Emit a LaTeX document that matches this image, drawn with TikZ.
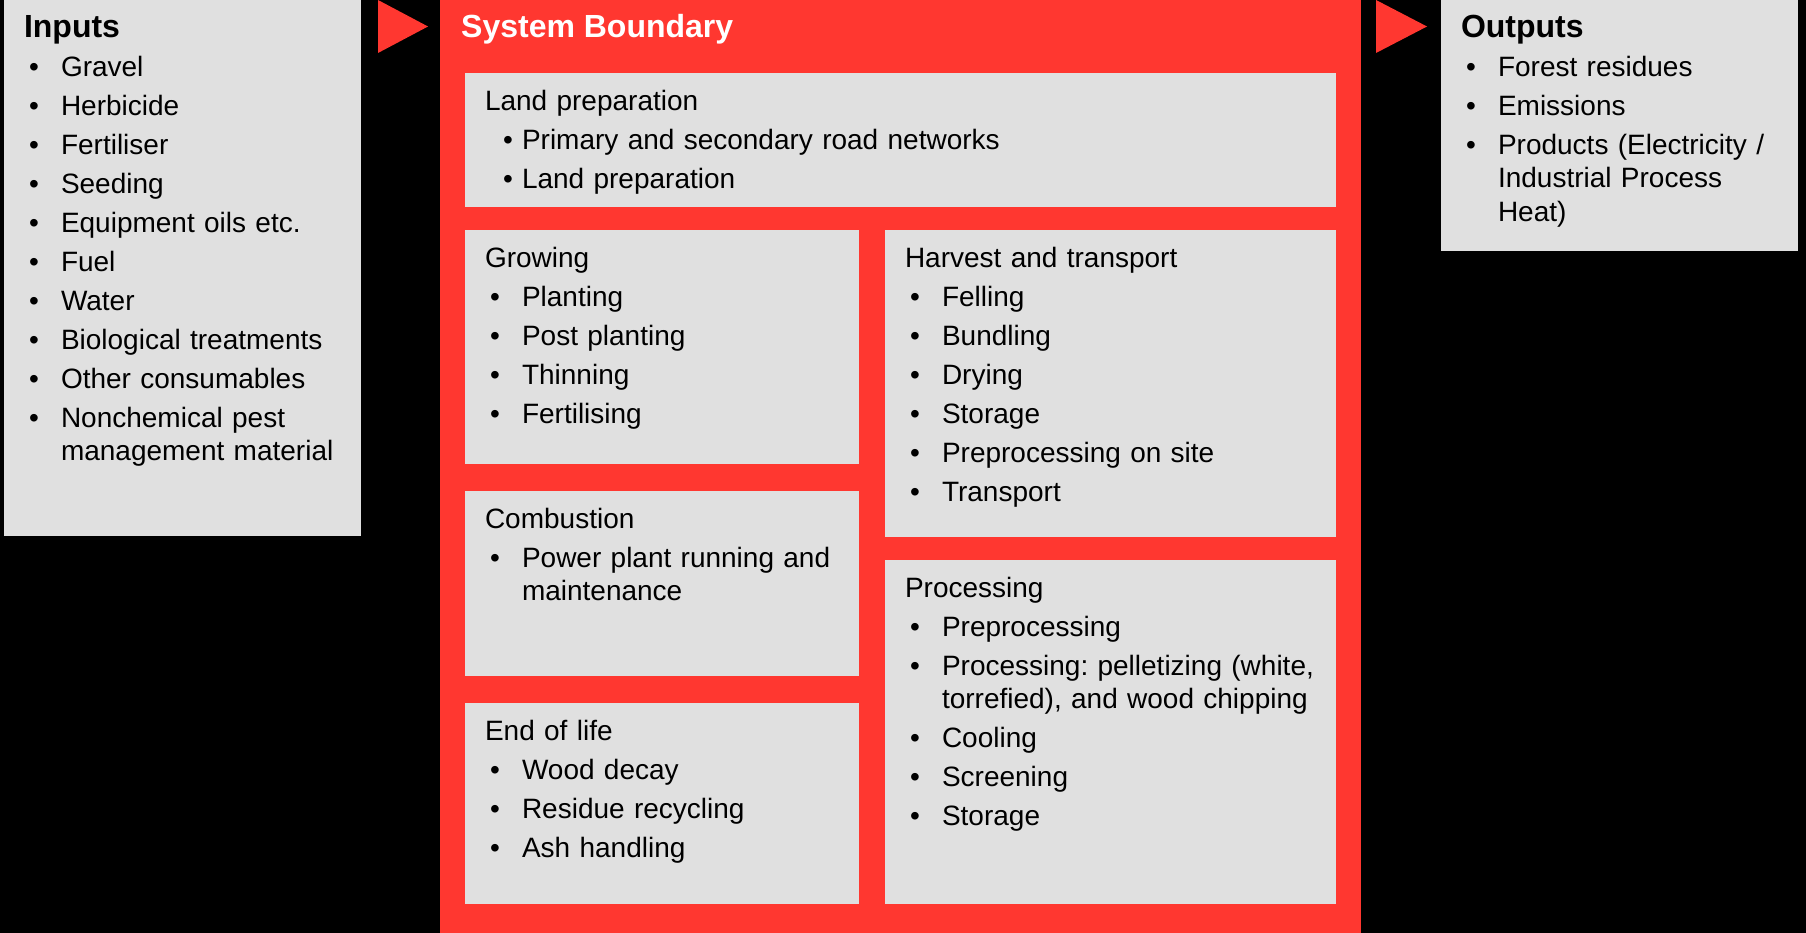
\documentclass[tikz,border=0pt]{standalone}
\usepackage{fontspec}
\usepackage{xcolor}
\setmainfont{Liberation Sans}

\definecolor{sbred}{RGB}{255,55,48}
\definecolor{panelgray}{RGB}{224,224,224}

\setlength{\parindent}{0pt}
\frenchspacing

% bullet list used inside the boxes
\newenvironment{dotlist}[1][22pt]{%
  \begin{list}{\textbullet}{%
    \setlength{\leftmargin}{37pt}%
    \setlength{\labelsep}{#1}%
    \setlength{\labelwidth}{\dimexpr37pt-#1\relax}%
    \setlength{\itemsep}{5.6pt}%
    \setlength{\parsep}{0pt}%
    \setlength{\topsep}{5.6pt}%
    \setlength{\partopsep}{0pt}}}%
  {\end{list}}

\newcommand{\boxhead}[1]{{\fontsize{32}{33.4}\selectfont\bfseries #1}\par}

\tikzset{
  panel/.style={fill=panelgray, anchor=north west, inner xsep=20pt, inner ysep=0pt,
    outer sep=0pt, text height=37.5pt, align=left,
    font=\fontsize{28}{33.4}\selectfont},
  flowtip/.style={fill=sbred}
}

\begin{document}
\begin{tikzpicture}[x=1pt,y=-1pt]

		% Background
		\fill[black] (0,0) rectangle (1806,933);
		\useasboundingbox (0,0) rectangle (1806,933);

		% Inputs
		\node[panel, text width=317pt, text depth=498.5pt] (inputs) at (4,0) {%
			\boxhead{Inputs}
			\begin{dotlist}
				\item Gravel
				\item Herbicide
				\item Fertiliser
				\item Seeding
				\item Equipment oils etc.
				\item Fuel
				\item Water
				\item Biological treatments
				\item Other consumables
				\item \mbox{Nonchemical pest}\newline management material
			\end{dotlist}};

		% System boundary
		\node[fill=sbred, anchor=north west, inner sep=0pt, minimum width=921pt,
			minimum height=933pt] (boundary) at (440,0) {};
		\node[anchor=base west, inner sep=0pt, text=white,
			font=\fontsize{32}{33.4}\selectfont\bfseries] (sbtitle) at (461,38) {System Boundary};

		% Arrows in and out
		\fill[flowtip] (378,0) -- (428,26.5) -- (378,53) -- cycle;
		\fill[flowtip] (1376,0) -- (1427,26.5) -- (1376,53) -- cycle;

		% Outputs
		\node[panel, text width=317pt, text depth=213.5pt] (outputs) at (1441,0) {%
			\boxhead{Outputs}
			\begin{dotlist}
				\item \makebox[\linewidth][l]{Forest residues}
				\item Emissions
				\item \makebox[\linewidth][l]{Products (Electricity /}\newline Industrial Process\newline Heat)
			\end{dotlist}};

		% Stages inside the boundary
		\node[panel, text width=831pt, text depth=96.5pt] (landprep) at (465,73) {%
			Land preparation
			\begin{dotlist}[9pt]
				\item Primary and secondary road networks
				\item Land preparation
			\end{dotlist}};

		\node[panel, text width=354pt, text depth=196.5pt] (growing) at (465,230) {%
			Growing
			\begin{dotlist}
				\item Planting
				\item Post planting
				\item Thinning
				\item Fertilising
			\end{dotlist}};

		\node[panel, text width=411pt, text depth=269.5pt] (harvest) at (885,230) {%
			Harvest and transport
			\begin{dotlist}
				\item Felling
				\item Bundling
				\item Drying
				\item Storage
				\item Preprocessing on site
				\item Transport
			\end{dotlist}};

		\node[panel, text width=354pt, text depth=147.5pt] (combustion) at (465,491) {%
			Combustion
			\begin{dotlist}
				\item \makebox[\linewidth][l]{Power plant running and}\newline maintenance
			\end{dotlist}};

		\node[panel, text width=354pt, text depth=163.5pt] (endoflife) at (465,703) {%
			End of life
			\begin{dotlist}
				\item Wood decay
				\item Residue recycling
				\item Ash handling
			\end{dotlist}};

		\node[panel, text width=411pt, text depth=306.5pt] (processing) at (885,560) {%
			Processing
			\begin{dotlist}
				\item Preprocessing
				\item \makebox[\linewidth][l]{Processing: pelletizing (white,}\newline
					\makebox[\linewidth][l]{torrefied), and wood chipping}
				\item Cooling
				\item Screening
				\item Storage
			\end{dotlist}};

\end{tikzpicture}
\end{document}
